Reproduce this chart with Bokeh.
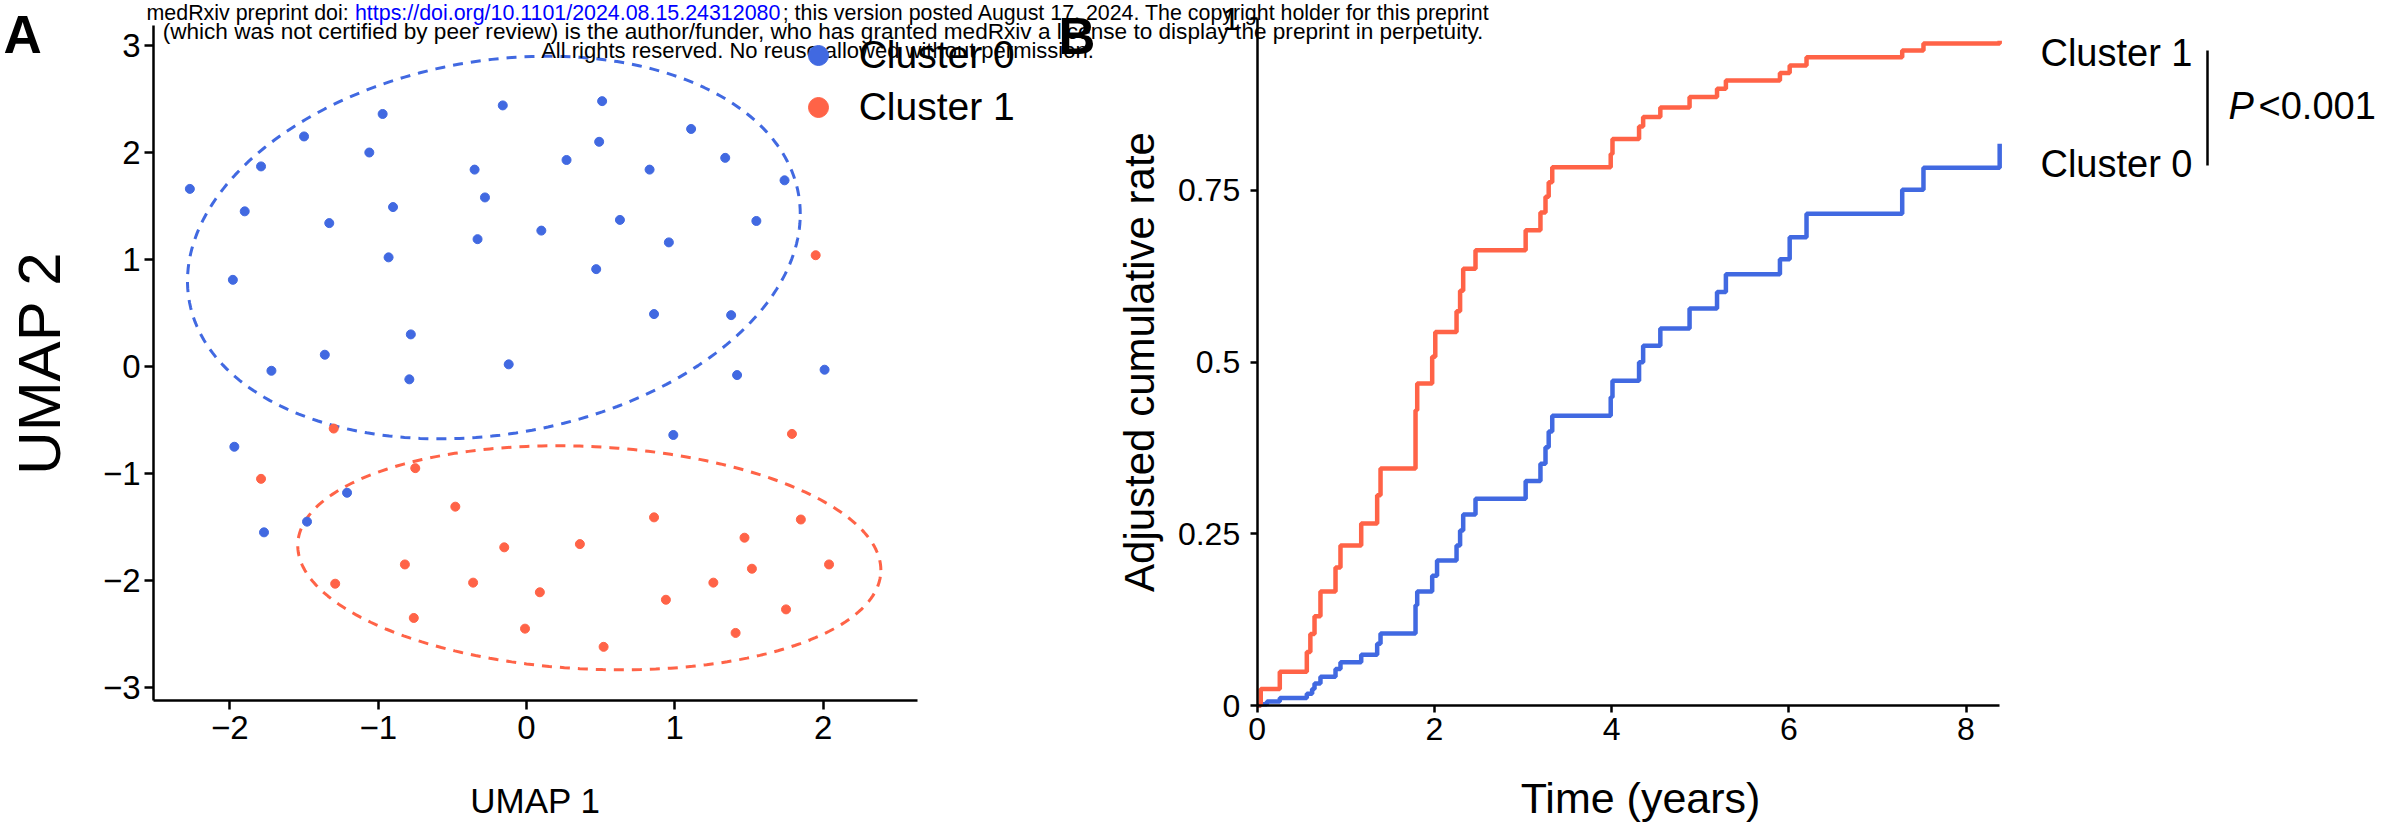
import numpy as np
from bokeh.plotting import figure
from bokeh.models import Range1d, FixedTicker, Label, Legend, LegendItem, LinearAxis
from bokeh.embed import file_html
from bokeh.resources import INLINE
from bokeh.core.properties import value

BLUE = "#4169E1"
RED = "#FF6347"
LINK = "#0000FF"
SANS = "Liberation Sans"

# ---------------- Panel A data (UMAP) ----------------
cluster0_x = [-2.27, -1.90, -1.79, -1.50, -0.97, -1.06, -1.33, -0.90, -0.93, -1.98,
              -0.78, -1.36, -1.72, -0.79, -0.16, -0.35, -0.28, -0.33, 0.10, -0.12,
              0.51, 1.11, 0.49, 0.27, 0.83, 1.34, 1.74, 0.63, 1.55, 0.96,
              0.47, 0.86, 1.38, 1.42, 2.01, -1.97, -1.77, -1.48, -1.21, 0.99]
cluster0_y = [1.66, 1.45, 1.87, 2.15, 2.36, 2.00, 1.34, 1.49, 1.02, 0.81,
              0.30, 0.11, -0.04, -0.12, 2.44, 1.84, 1.58, 1.19, 1.27, 0.02,
              2.48, 2.22, 2.10, 1.93, 1.84, 1.95, 1.74, 1.37, 1.36, 1.16,
              0.91, 0.49, 0.48, -0.08, -0.03, -0.75, -1.55, -1.45, -1.18, -0.64]
cluster1_x = [1.95, -1.30, -1.79, -0.75, -0.48, -0.15, -0.82, -1.29, -0.36, 0.09,
              -0.76, -0.01, 1.79, 0.86, 0.36, 1.85, 1.47, 1.52, 2.04, 1.26,
              0.94, 1.75, 1.41, 0.52]
cluster1_y = [1.04, -0.58, -1.05, -0.95, -1.31, -1.69, -1.85, -2.03, -2.02, -2.11,
              -2.35, -2.45, -0.63, -1.41, -1.66, -1.43, -1.60, -1.89, -1.85, -2.02,
              -2.18, -2.27, -2.49, -2.62]
cluster_names = ["Cluster 0", "Cluster 1"]

# 95% ellipse shapes (cluster 0, cluster 1)
ellipse_cx = [-0.22, 0.4235]
ellipse_cy = [1.112, -1.788]
ellipse_rx = [2.066, 1.966]
ellipse_ry = [1.788, 1.047]
ellipse_tilt = [0.175, -0.11]

umap_x_ticks = [-2, -1, 0, 1, 2]
umap_y_ticks = [-3, -2, -1, 0, 1, 2, 3]
umap_x_limits = [-2.515, 2.635]
umap_y_limits = [-3.1215, 3.187]

# ---------------- Panel B data (adjusted cumulative rate) ----------------
time0 = [0, 0.04, 0.11, 0.255, 0.56, 0.62, 0.647, 0.714, 0.884, 0.94,
         1.174, 1.354, 1.392, 1.787, 1.806, 1.975, 2.03, 2.25, 2.29, 2.325,
         2.464, 3.03, 3.197, 3.254, 3.29, 3.33, 3.99, 4.01, 4.31, 4.356,
         4.55, 4.88, 5.19, 5.29, 5.90, 6.01, 6.20, 7.28, 7.52, 8.38]
rate0 = [0, 0.002, 0.006, 0.011, 0.017, 0.024, 0.032, 0.042, 0.053, 0.063,
         0.074, 0.090, 0.105, 0.146, 0.166, 0.189, 0.211, 0.233, 0.255, 0.278,
         0.301, 0.327, 0.352, 0.376, 0.399, 0.422, 0.449, 0.473, 0.500, 0.524,
         0.549, 0.578, 0.602, 0.628, 0.650, 0.682, 0.716, 0.751, 0.783, 0.818]
time1 = [0, 0.04, 0.255, 0.56, 0.60, 0.647, 0.714, 0.884, 0.94, 1.174,
         1.354, 1.392, 1.787, 1.806, 1.975, 2.01, 2.25, 2.29, 2.325, 2.464,
         3.03, 3.197, 3.254, 3.29, 3.33, 3.99, 4.01, 4.31, 4.356, 4.55,
         4.88, 5.19, 5.29, 5.90, 6.01, 6.20, 7.28, 7.52, 8.38]
rate1 = [0, 0.024, 0.049, 0.078, 0.104, 0.130, 0.166, 0.201, 0.233, 0.265,
         0.306, 0.345, 0.43, 0.469, 0.508, 0.544, 0.574, 0.604, 0.636, 0.663,
         0.692, 0.718, 0.741, 0.762, 0.784, 0.803, 0.825, 0.843, 0.857, 0.871,
         0.886, 0.898, 0.910, 0.921, 0.932, 0.944, 0.954, 0.964, 0.968]
time_ticks = [0, 2, 4, 6, 8]
rate_ticks = [0, 0.25, 0.5, 0.75, 1]
rate_tick_labels = ["0", "0.25", "0.5", "0.75", "1"]
curve_labels = ["Cluster 1", "Cluster 0"]
p_text = "<0.001"

watermark_1 = ["medRxiv preprint doi: ", "https://doi.org/10.1101/2024.08.15.24312080",
               "; this version posted August 17, 2024. The copyright holder for this preprint"]
watermark_2 = ("(which was not certified by peer review) is the author/funder, who has granted "
               "medRxiv a license to display the preprint in perpetuity.")
watermark_3 = "All rights reserved. No reuse allowed without permission."

# ---------------- layout: reference-pixel geometry ----------------
W, H = 2384, 825
A_X0_PX, A_Y0_PX, A_KX, A_KY = 526.0, 366.0, 148.3, 107.0     # pixel of (0,0), px per unit
B_X0_PX, B_Y0_PX, B_KX, B_KY = 1256.7, 705.0, 88.6, 686.7


def ax_(rx):
    return (rx - A_X0_PX) / A_KX


def ay_(ry):
    return (A_Y0_PX - ry) / A_KY


def bx_(rx):
    return (rx - B_X0_PX) / B_KX


def by_(ry):
    return (B_Y0_PX - ry) / B_KY


# Arial / Liberation Sans advance widths (per 1000 em) used to lay out the header line
_W = {' ': 278, '!': 278, '"': 355, '#': 556, '$': 556, '%': 889, '&': 667, "'": 191,
      '(': 333, ')': 333, '*': 389, '+': 584, ',': 278, '-': 333, '.': 278, '/': 278,
      ':': 278, ';': 278, '<': 584, '=': 584, '>': 584, '?': 556, '@': 1015,
      'A': 667, 'B': 667, 'C': 722, 'D': 722, 'E': 667, 'F': 611, 'G': 778, 'H': 722,
      'I': 278, 'J': 500, 'K': 667, 'L': 556, 'M': 833, 'N': 722, 'O': 778, 'P': 667,
      'Q': 778, 'R': 722, 'S': 667, 'T': 611, 'U': 722, 'V': 667, 'W': 944, 'X': 667,
      'Y': 667, 'Z': 611, 'a': 556, 'b': 556, 'c': 500, 'd': 556, 'e': 556, 'f': 278,
      'g': 556, 'h': 556, 'i': 222, 'j': 222, 'k': 500, 'l': 222, 'm': 833, 'n': 556,
      'o': 556, 'p': 556, 'q': 556, 'r': 333, 's': 500, 't': 278, 'u': 556, 'v': 500,
      'w': 722, 'x': 500, 'y': 500, 'z': 500}


def em(s):
    return sum(_W.get(c, 556) for c in s) / 1000.0


line1_full = "".join(watermark_1)
WM_BASE = (1343 / em(line1_full) + 1319 / em(watermark_2)) / 2
WM_SIZES = [WM_BASE * 0.976, WM_BASE * 1.027, WM_BASE]
WM_CENTER = [818.5, 822.5, 817.0]
WM_Y = [12.5, 31.0, 50.0]

# ================= one canvas, panel A on the main ranges, panel B on extra ranges =================
p = figure(width=W, height=H, output_backend="svg", toolbar_location=None,
           x_range=Range1d(ax_(0), ax_(W)), y_range=Range1d(ay_(H), ay_(0)),
           min_border=0, min_border_left=0, min_border_right=0, min_border_top=0,
           min_border_bottom=0, x_axis_label="UMAP 1", y_axis_label="UMAP 2")
p.extra_x_ranges = {"bx": Range1d(bx_(0), bx_(W))}
p.extra_y_ranges = {"by": Range1d(by_(H), by_(0))}
p.grid.visible = False
p.outline_line_color = None

# ---- panel A marks ----
tt = np.linspace(0, 2 * np.pi, 240)
for i, col in enumerate([BLUE, RED]):
    ph = np.arccos(ellipse_tilt[i])
    ex = ellipse_cx[i] + ellipse_rx[i] * np.cos(tt)
    ey = ellipse_cy[i] + ellipse_ry[i] * np.cos(tt - ph)
    p.line(ex, ey, line_color=col, line_width=3, line_dash="10 8")

r0 = p.scatter(cluster0_x, cluster0_y, size=9, color=BLUE)
r1 = p.scatter(cluster1_x, cluster1_y, size=9, color=RED)

leg = Legend(items=[LegendItem(label=cluster_names[0], renderers=[r0]),
                    LegendItem(label=cluster_names[1], renderers=[r1])],
             location=(792.7, H - 132), glyph_width=50, glyph_height=50, spacing=2, padding=0,
             margin=0, label_standoff=16, label_text_font=SANS, label_text_font_size="39px",
             label_text_color="black", label_text_baseline="middle",
             border_line_color=None, background_fill_alpha=0)
p.add_layout(leg)

# ---- panel B marks ----
p.step(time0, rate0, mode="after", line_color=BLUE, line_width=4.5,
       x_range_name="bx", y_range_name="by")
p.step(time1, rate1, mode="after", line_color=RED, line_width=4.5,
       x_range_name="bx", y_range_name="by")

# ---- axes ----
bxa = LinearAxis(x_range_name="bx", y_range_name="by")
bya = LinearAxis(x_range_name="bx", y_range_name="by", axis_label="Adjusted cumulative rate")
p.add_layout(bxa, "below")
p.add_layout(bya, "left")


def style_axis(a, tick_size, label_size, tick_out):
    a.axis_line_width = 2.5
    a.axis_line_color = "black"
    a.major_tick_line_width = 2.5
    a.major_tick_line_color = "black"
    a.major_tick_out = tick_out
    a.major_tick_in = 0
    a.minor_tick_line_color = None
    a.major_label_text_font = SANS
    a.major_label_text_font_size = tick_size
    a.major_label_text_color = "black"
    a.axis_label_text_font = SANS
    a.axis_label_text_font_size = label_size
    a.axis_label_text_font_style = "normal"
    a.axis_label_text_color = "black"


axA_x, axA_y = p.xaxis[0], p.yaxis[0]
style_axis(axA_x, "33px", "35px", 9)
style_axis(axA_y, "33px", "60px", 9)
axA_x.fixed_location = umap_y_limits[0]
axA_y.fixed_location = umap_x_limits[0]
axA_x.bounds = tuple(umap_x_limits)
axA_y.bounds = tuple(umap_y_limits)
axA_x.ticker = FixedTicker(ticks=umap_x_ticks)
axA_y.ticker = FixedTicker(ticks=umap_y_ticks)
axA_x.major_label_overrides = {t: str(t).replace("-", "\u2212") for t in umap_x_ticks}
axA_y.major_label_overrides = {t: str(t).replace("-", "\u2212") for t in umap_y_ticks}
axA_x.major_label_standoff = 6
axA_y.major_label_standoff = 4
axA_x.axis_label_standoff = 39
axA_y.axis_label_standoff = 27

style_axis(bxa, "32px", "42px", 7)
style_axis(bya, "32px", "42px", 7)
bxa.fixed_location = rate_ticks[0]
bya.fixed_location = time_ticks[0]
bxa.bounds = (time_ticks[0], max(time1[-1], time0[-1]))
bya.bounds = (rate_ticks[0], rate_ticks[-1])
bxa.ticker = FixedTicker(ticks=time_ticks)
bya.ticker = FixedTicker(ticks=rate_ticks)
bya.major_label_overrides = dict(zip(rate_ticks, rate_tick_labels))
bxa.major_label_standoff = 5
bya.major_label_standoff = 10
bya.axis_label_standoff = 12

# ---- panel B: x title, curve labels and p-value ----
p.add_layout(Label(x=bx_(1640), y=by_(797), x_range_name="bx", y_range_name="by",
                   text="Time (years)", text_font=SANS, text_font_size="43px",
                   text_color="black", text_align="center", text_baseline="middle"))
lab_x = bx_(2192)
p.text(x=[lab_x, lab_x], y=[by_(52), by_(163)], text=curve_labels, text_align="right",
       text_baseline="middle", text_font=value(SANS), text_font_size="38px", text_color="black",
       x_range_name="bx", y_range_name="by")
p.segment(x0=[bx_(2207)], y0=[by_(50)], x1=[bx_(2207)], y1=[by_(165)], line_color="black",
          line_width=2.5, x_range_name="bx", y_range_name="by")
p.text(x=[bx_(2228)], y=[by_(105)], text=["P"], text_align="left", text_baseline="middle",
       text_font=value(SANS), text_font_style="italic", text_font_size="38px", text_color="black",
       x_range_name="bx", y_range_name="by")
p.text(x=[bx_(2258)], y=[by_(105)], text=[p_text], text_align="left", text_baseline="middle",
       text_font=value(SANS), text_font_size="38px", text_color="black",
       x_range_name="bx", y_range_name="by")

# ---- panel tags ----
p.add_layout(Label(x=ax_(3), y=ay_(34), text="A", text_font=SANS, text_font_style="bold",
                   text_font_size="53px", text_color="black", text_baseline="middle",
                   text_align="left"))
p.add_layout(Label(x=ax_(1058), y=ay_(36), text="B", text_font=SANS, text_font_style="bold",
                   text_font_size="51px", text_color="black", text_baseline="middle",
                   text_align="left"))

# ---- preprint header ----
s1 = WM_SIZES[0]
start = WM_CENTER[0] - em(line1_full) * s1 / 2
for piece, col in zip(watermark_1, ["black", LINK, "black"]):
    p.add_layout(Label(x=ax_(start), y=ay_(WM_Y[0]), text=piece, text_align="left",
                       text_baseline="middle", text_font=SANS, text_font_size="%.1fpx" % s1,
                       text_color=col))
    start += em(piece) * s1
for txt, cx, cy, sz in [(watermark_2, WM_CENTER[1], WM_Y[1], WM_SIZES[1]),
                        (watermark_3, WM_CENTER[2], WM_Y[2], WM_SIZES[2])]:
    p.add_layout(Label(x=ax_(cx), y=ay_(cy), text=txt, text_align="center",
                       text_baseline="middle", text_font=SANS, text_font_size="%.1fpx" % sz,
                       text_color="black"))

open("out.html", "w").write(file_html(p, INLINE))
